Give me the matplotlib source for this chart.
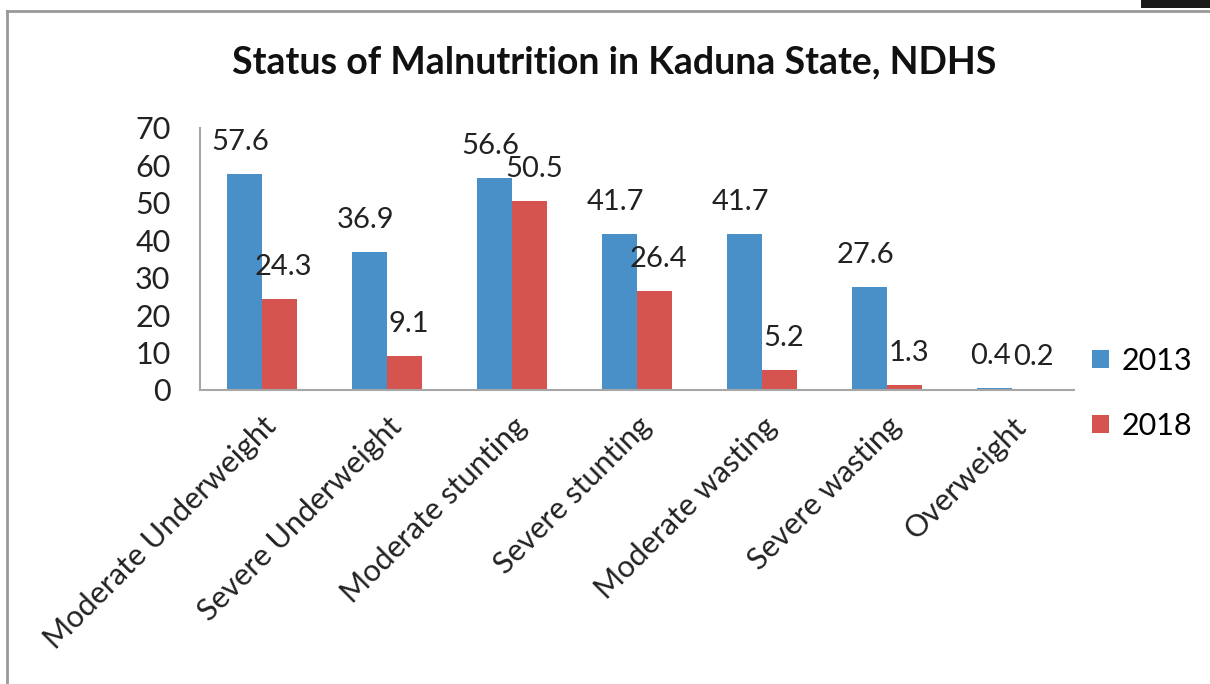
import matplotlib.pyplot as plt
import numpy as np
from matplotlib.patches import Rectangle
from matplotlib.lines import Line2D

categories = ["Moderate Underweight", "Severe Underweight", "Moderate stunting",
              "Severe stunting", "Moderate wasting", "Severe wasting", "Overweight"]
values_2013 = [57.6, 36.9, 56.6, 41.7, 41.7, 27.6, 0.4]
values_2018 = [24.3, 9.1, 50.5, 26.4, 5.2, 1.3, 0.2]
yticks = [0, 10, 20, 30, 40, 50, 60, 70]

blue = "#4A90C8"
red = "#D55450"

plt.rcParams['font.family'] = ['Lato', 'DejaVu Sans']

fig = plt.figure(figsize=(12.1, 6.84), dpi=100)
ax = fig.add_axes([0.165, 0.43, 0.723, 0.383])

x = np.arange(len(categories))
w = 0.28
b1 = ax.bar(x - w / 2, values_2013, w, color=blue, label="2013")
b2 = ax.bar(x + w / 2, values_2018, w, color=red, label="2018")

# labels sit above the bars, nudged a bit apart so neighbours don't collide
for bars, dx in ((b1, -3), (b2, 3)):
    for bar in bars:
        h = bar.get_height()
        ax.annotate(f"{h:g}", (bar.get_x() + bar.get_width() / 2, h),
                    xytext=(dx, 23), textcoords="offset points",
                    ha="center", va="center", fontsize=21, color="#222222")

ax.set_xlim(-0.5, len(categories) - 0.5)
ax.set_ylim(0, 70)
ax.set_yticks(yticks)
ax.set_xticks(x)
ax.set_xticklabels(categories, rotation=45, ha="right", rotation_mode="anchor")
ax.tick_params(axis="both", length=0, labelsize=22, colors="#222222")
ax.tick_params(axis="y", pad=21)
ax.tick_params(axis="x", pad=16)

for s in ("top", "right"):
    ax.spines[s].set_visible(False)
for s in ("left", "bottom"):
    ax.spines[s].set_color("#a6a6a6")
    ax.spines[s].set_linewidth(1.5)

fig.text(0.508, 0.908, "Status of Malnutrition in Kaduna State, NDHS",
         ha="center", va="center", fontsize=27, fontweight="bold", color="#111111")

fig.legend(handles=[b1, b2], loc="center left", bbox_to_anchor=(0.88, 0.425),
           frameon=False, fontsize=22, handlelength=0.55, handleheight=0.55,
           handletextpad=0.4, labelspacing=1.2)

# frame: only top and left edges are visible in the screenshot
fig.add_artist(Line2D([0.006, 1.0], [0.984, 0.984], transform=fig.transFigure,
                      color="#999999", linewidth=2))
fig.add_artist(Line2D([0.006, 0.006], [0.0, 0.984], transform=fig.transFigure,
                      color="#999999", linewidth=2))
fig.patches.append(Rectangle((0.943, 0.988), 0.06, 0.02, transform=fig.transFigure,
                             facecolor="#1a1a1a", edgecolor="none"))

fig.savefig("out.png", dpi=100)
